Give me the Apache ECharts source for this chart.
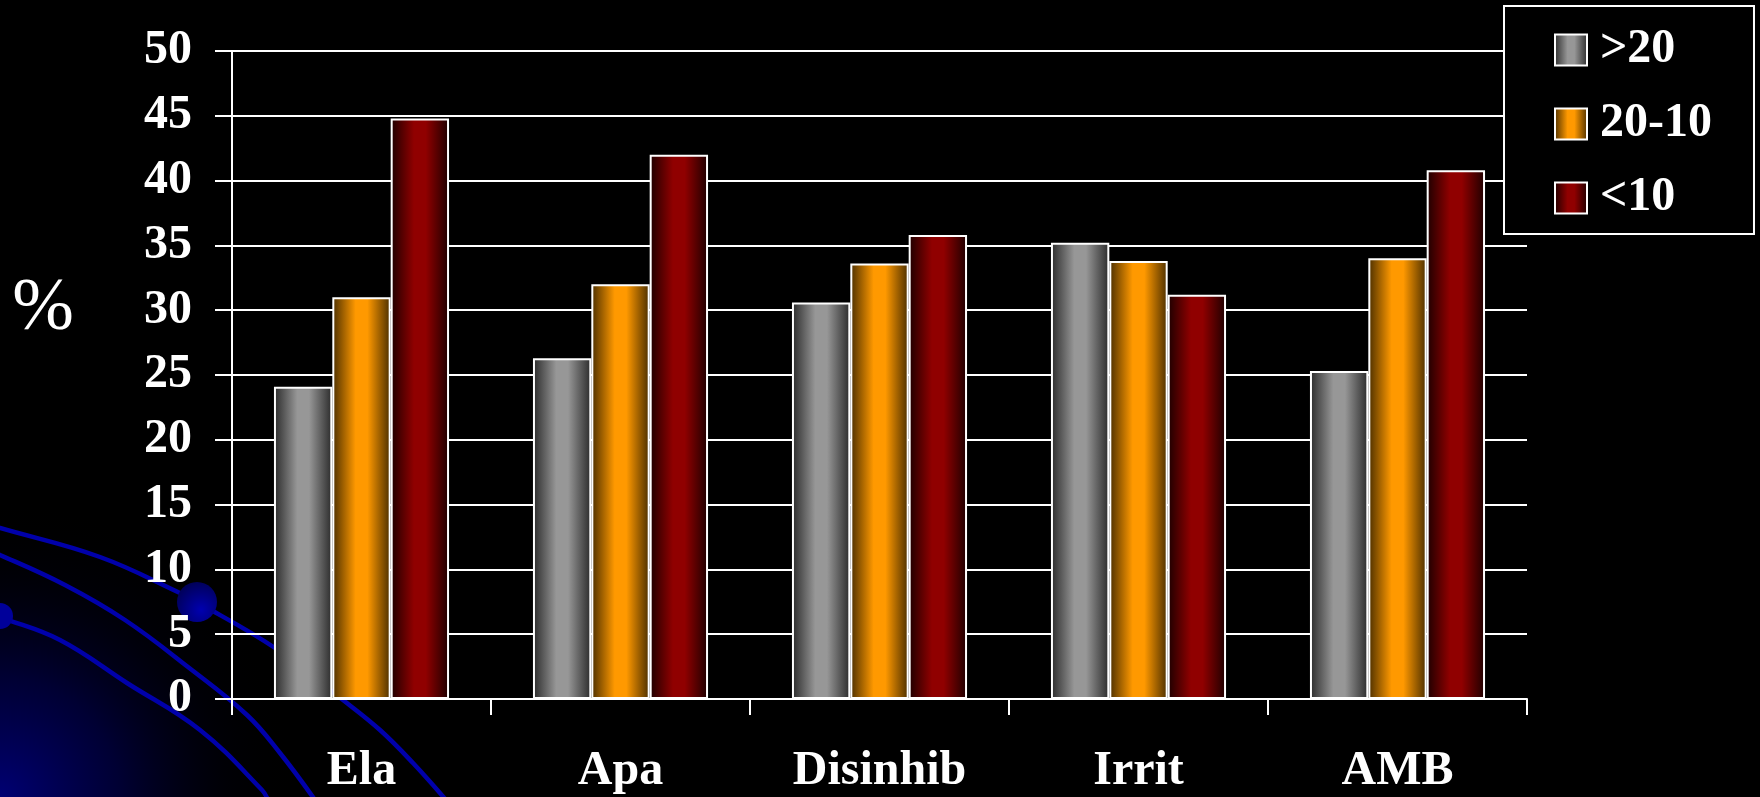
<!DOCTYPE html>
<html>
<head>
<meta charset="utf-8">
<title>Ela / Apa / Disinhib / Irrit / AMB</title>
<script src="https://cdn.jsdelivr.net/npm/echarts@6/dist/echarts.min.js"></script>
<style>
  html, body { margin: 0; padding: 0; background: #000; }
  #chart { width: 1760px; height: 797px; }
</style>
</head>
<body>
<div id="chart"></div>
<script>
// Categories along the x axis
const categories = ['Ela', 'Apa', 'Disinhib', 'Irrit', 'AMB'];

// Percentages per group
const seriesNames = ['>20', '20-10', '<10'];
const valuesOver20 = [24.1, 26.3, 30.6, 35.2, 25.3];
const values20to10 = [31.0, 32.0, 33.6, 33.8, 34.0];
const valuesUnder10 = [44.8, 42.0, 35.8, 31.2, 40.8];

// Y axis ticks
const yMin = 0;
const yMax = 50;
const yStep = 5;

const serifFont = '"Liberation Serif", "Times New Roman", serif';

// Horizontal "cylinder" shading for each bar colour
function barShade(edge, mid) {
  return new echarts.graphic.LinearGradient(0, 0, 1, 0, [
    { offset: 0, color: edge },
    { offset: 0.4, color: mid },
    { offset: 0.6, color: mid },
    { offset: 1, color: edge }
  ]);
}
const shades = [
  barShade('#2a2a2a', '#979797'),
  barShade('#4a2e00', '#ff9900'),
  barShade('#1c0000', '#900000')
];
const seriesValues = [valuesOver20, values20to10, valuesUnder10];

// Decorative blue arcs in the lower-left corner of the slide background
const arcColor = '#0000aa';
const arcA = [[-10, 525], [0, 528], [100, 557], [180, 593], [197, 602], [275, 648], [343, 700], [380, 730], [413, 763], [446, 800]];
const arcB = [[-10, 552], [0, 555], [65, 585], [125, 620], [188, 667], [247, 715], [280, 753], [315, 800]];
const arcC = [[-10, 613], [0, 617], [60, 640], [127, 683], [200, 730], [262, 790], [268, 800]];

const chart = echarts.init(document.getElementById('chart'), null, { renderer: 'canvas' });

chart.setOption({
  backgroundColor: '#000',
  animation: false,
  graphic: [
    {
      // dark navy glow in the bottom-left corner
      type: 'rect', z: -10, silent: true,
      shape: { x: 0, y: 440, width: 360, height: 357 },
      style: {
        fill: new echarts.graphic.RadialGradient(0, 797, 300, [
          { offset: 0, color: 'rgba(0,0,115,1)' },
          { offset: 0.4, color: 'rgba(0,0,60,0.85)' },
          { offset: 0.75, color: 'rgba(0,0,15,0.4)' },
          { offset: 1, color: 'rgba(0,0,0,0)' }
        ], true)
      }
    },
    { type: 'polyline', z: -9, silent: true, shape: { points: arcA, smooth: 0.4 }, style: { stroke: arcColor, lineWidth: 4.5, fill: null } },
    { type: 'polyline', z: -9, silent: true, shape: { points: arcB, smooth: 0.4 }, style: { stroke: arcColor, lineWidth: 4.5, fill: null } },
    { type: 'polyline', z: -9, silent: true, shape: { points: arcC, smooth: 0.4 }, style: { stroke: arcColor, lineWidth: 4.5, fill: null } },
    {
      type: 'circle', z: -8, silent: true,
      shape: { cx: 197, cy: 602, r: 20 },
      style: { fill: new echarts.graphic.RadialGradient(0.6, 0.7, 0.7, [{ offset: 0, color: '#0000b0' }, { offset: 1, color: '#00005a' }]) }
    },
    {
      type: 'circle', z: -8, silent: true,
      shape: { cx: 0, cy: 616, r: 13 },
      style: { fill: '#00009a' }
    },
    {
      type: 'text', z: 5,
      x: 43, y: 310,
      style: {
        text: '%', fill: '#fff',
        font: '400 74px ' + serifFont,
        align: 'center', verticalAlign: 'middle'
      }
    }
  ],
  legend: {
    orient: 'vertical',
    left: 1504,
    top: 6,
    padding: [20, 42, 12, 50],
    itemGap: 26,
    itemWidth: 32,
    itemHeight: 31,
    icon: 'rect',
    borderColor: '#fff',
    borderWidth: 2,
    borderRadius: 0,
    backgroundColor: '#000',
    itemStyle: { borderColor: '#fff', borderWidth: 2 },
    textStyle: {
      color: '#fff',
      fontSize: 48,
      fontWeight: 'bold',
      fontFamily: serifFont,
      padding: [0, 0, 0, 8]
    },
    data: seriesNames
  },
  grid: {
    left: 232,
    top: 51,
    width: 1295,
    height: 648,
    containLabel: false
  },
  xAxis: {
    type: 'category',
    data: categories,
    axisLine: { show: true, lineStyle: { color: '#fff', width: 2 } },
    axisTick: { show: true, length: 16, lineStyle: { color: '#fff', width: 2 } },
    axisLabel: {
      color: '#fff',
      fontSize: 48,
      fontWeight: 'bold',
      fontFamily: serifFont,
      margin: 49
    },
    splitLine: { show: false }
  },
  yAxis: {
    type: 'value',
    min: yMin,
    max: yMax,
    interval: yStep,
    axisLine: { show: true, lineStyle: { color: '#fff', width: 2 } },
    axisTick: { show: true, length: 17, lineStyle: { color: '#fff', width: 2 } },
    axisLabel: {
      color: '#fff',
      fontSize: 48,
      fontWeight: 'bold',
      fontFamily: serifFont,
      margin: 40
    },
    splitLine: { show: true, lineStyle: { color: '#fff', width: 2 } }
  },
  series: seriesNames.map((name, i) => ({
    name: name,
    type: 'bar',
    data: seriesValues[i],
    barGap: '0%',
    barCategoryGap: '32.4%',
    itemStyle: {
      color: shades[i],
      borderColor: '#fff',
      borderWidth: 2
    }
  }))
});
</script>
</body>
</html>
